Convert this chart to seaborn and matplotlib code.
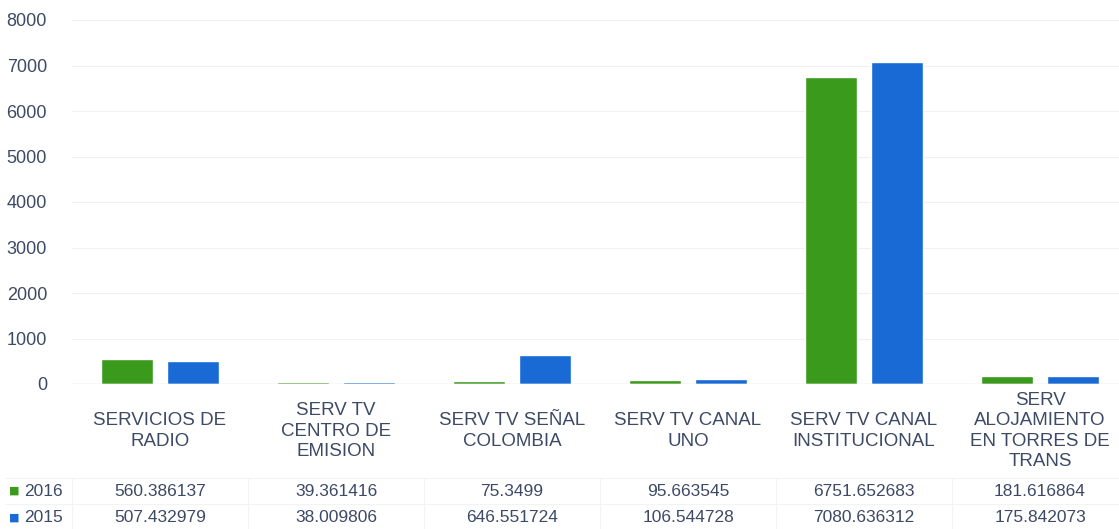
import matplotlib
matplotlib.use("Agg")
import matplotlib.pyplot as plt
import matplotlib.transforms as mtransforms
import seaborn as sns
import pandas as pd

# -----------------------------
# Data
# -----------------------------
categories = [
    "SERVICIOS DE\nRADIO",
    "SERV TV\nCENTRO DE\nEMISION",
    "SERV TV SEÑAL\nCOLOMBIA",
    "SERV TV CANAL\nUNO",
    "SERV TV CANAL\nINSTITUCIONAL",
    "SERV\nALOJAMIENTO\nEN TORRES DE\nTRANS",
]
years = ["2016", "2015"]
values_2016 = [560.386137, 39.361416, 75.3499, 95.663545, 6751.652683, 181.616864]
values_2015 = [507.432979, 38.009806, 646.551724, 106.544728, 7080.636312, 175.842073]
table_2016 = ["560.386137", "39.361416", "75.3499", "95.663545", "6751.652683", "181.616864"]
table_2015 = ["507.432979", "38.009806", "646.551724", "106.544728", "7080.636312", "175.842073"]
yticks = [0, 1000, 2000, 3000, 4000, 5000, 6000, 7000, 8000]

green = "#3a9a1c"
blue = "#1a6ad6"
text_color = "#3d4a66"

df = pd.DataFrame({
    "cat": categories * 2,
    "year": ["2016"] * 6 + ["2015"] * 6,
    "val": values_2016 + values_2015,
})

# -----------------------------
# Plot
# -----------------------------
sns.set_style("white")
plt.rcParams["font.family"] = ["Liberation Sans", "DejaVu Sans"]

fig = plt.figure(figsize=(11.19, 5.29), dpi=100)
W, H = 1119, 529
ax = fig.add_axes([72 / W, 1 - 384 / H, (1128 - 72) / W, (384 - 20) / H])

sns.barplot(data=df, x="cat", y="val", hue="year", hue_order=years,
            palette=[green, blue], width=0.75, gap=0.2, ax=ax,
            legend=False, saturation=1)

ax.set_ylim(0, 8000)
ax.set_xlim(-0.5, 5.5)
ax.set_yticks(yticks)
ax.set_yticklabels([str(t) for t in yticks], fontsize=13, color=text_color)
ax.tick_params(axis="y", length=0, pad=18)
ax.set_xticks([])
ax.set_xlabel("")
ax.set_ylabel("")
ax.grid(axis="y", color="#f0f0f0", linewidth=0.8)
ax.set_axisbelow(True)
for s in ax.spines.values():
    s.set_visible(False)
ax.axhline(0, color="#e0e0e0", linewidth=1)

# -----------------------------
# Category labels and data table
# -----------------------------
trans = mtransforms.blended_transform_factory(ax.transData, fig.transFigure)
for i, cat in enumerate(categories):
    ax.text(i, 1 - 431 / H, cat, transform=trans, ha="center", va="center",
            fontsize=13.5, color=text_color, linespacing=1.28, multialignment="center")
    ax.text(i, 1 - 491 / H, table_2016[i], transform=trans, ha="center", va="center",
            fontsize=12.5, color=text_color)
    ax.text(i, 1 - 518 / H, table_2015[i], transform=trans, ha="center", va="center",
            fontsize=12.5, color=text_color)

# faint table lines
for yy in [478, 504]:
    fig.add_artist(plt.Line2D([5 / W, 1], [1 - yy / H] * 2, color="#f3f3f3", linewidth=0.8))
for i in range(6):
    ax.plot([i - 0.5, i - 0.5], [1 - 478 / H, 0], transform=trans, color="#f3f3f3",
            linewidth=0.8, clip_on=False)

# legend keys in table
for yy, col, yr in [(491, green, "2016"), (518, blue, "2015")]:
    fig.text(9 / W, 1 - yy / H, "■", color=col, fontsize=8, va="center", ha="left",
             family=["DejaVu Sans"])
    fig.text(24 / W, 1 - yy / H, yr, color=text_color, fontsize=12.5, va="center", ha="left")

fig.savefig("out.png", dpi=100)
